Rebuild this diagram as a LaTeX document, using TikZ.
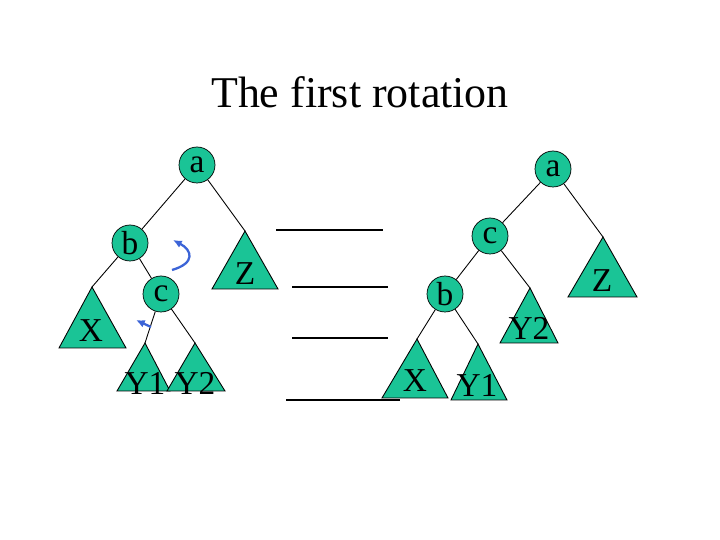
\documentclass[tikz,border=0pt]{standalone}
\usepackage{fontspec}
\setmainfont{Liberation Serif}
\usetikzlibrary{arrows.meta}
\definecolor{treegreen}{RGB}{26,196,150}
\definecolor{turnblue}{RGB}{60,100,215}

\begin{document}
\begin{tikzpicture}[x=0.02cm, y=-0.02cm, >={Latex[length=5pt,width=4.5pt]},
	vert/.style={circle, draw, fill=treegreen, inner sep=0pt,
		minimum size=0.72cm, font=\fontsize{19}{19}\selectfont},
	lbl/.style={anchor=base, inner sep=0pt, font=\fontsize{19}{19}\selectfont},
	sub/.style={draw, line width=0.5pt, fill=treegreen},
	edge/.style={line width=0.5pt}]
	\useasboundingbox (0,0) rectangle (720,540);
	\node[anchor=base, font=\fontsize{25}{25}\selectfont] (title) at (360,108)
		{The first rotation};
	% subtrees: name/apex x/apex y/left/right/base
	\foreach \n/\x/\y/\l/\r/\h in {Z1/245/231/212/278/289, X1/92/287/59/126/348,
			Ya1/145/343/117/170/391, Yb1/195/343/167/225/391,
			Z2/603/237/568/637/297, Yb2/530/288/500/558/343,
			X2/417/339/382/448/398, Ya2/478/344/451/507/400}
		{
			\draw[sub] (\x,\y) coordinate (\n) -- (\l,\h) -- (\r,\h) -- cycle;
		}
	\node[lbl] (tZ1) at (245,285) {Z};
	\node[lbl] (tX1) at (91,342) {X};
	\node[lbl] (tYa1) at (145,395) {Y1};
	\node[lbl] (tYb1) at (195,395) {Y2};
	\node[lbl] (tZ2) at (602,292) {Z};
	\node[lbl] (tYb2) at (529,340) {Y2};
	\node[lbl] (tX2) at (415,392) {X};
	\node[lbl] (tYa2) at (477,397) {Y1};
	% before
	\node[vert] (a1) at (197,165) {a};
	\node[vert] (b1) at (130,243) {b};
	\node[vert] (c1) at (161,294) {c};
	\draw[edge] (a1) -- (b1);
	\draw[edge] (a1) -- (Z1);
	\draw[edge] (b1) -- (X1);
	\draw[edge] (b1) -- (c1);
	\draw[edge] (c1) -- (Ya1);
	\draw[edge] (c1) -- (Yb1);
	\draw[->, turnblue, line width=1.3pt] (172,270) .. controls (196,263) and (192,250) .. (173,240);
	\draw[->, turnblue, line width=1.3pt] (151,327) -- (136,320);
	% after
	\node[vert] (a2) at (553,169) {a};
	\node[vert] (c2) at (490,236) {c};
	\node[vert] (b2) at (445,294) {b};
	\draw[edge] (a2) -- (c2);
	\draw[edge] (a2) -- (Z2);
	\draw[edge] (c2) -- (b2);
	\draw[edge] (c2) -- (Yb2);
	\draw[edge] (b2) -- (X2);
	\draw[edge] (b2) -- (Ya2);
	% blanks
	\draw[line width=0.7pt] (276,230) -- (383,230);
	\draw[line width=0.7pt] (292,287) -- (388,287);
	\draw[line width=0.7pt] (292,338) -- (388,338);
	\draw[line width=0.7pt] (286,400) -- (400,400);
\end{tikzpicture}
\end{document}
